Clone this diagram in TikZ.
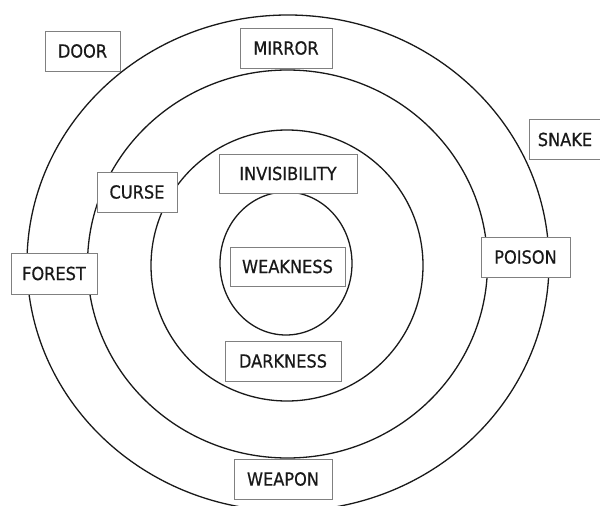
\documentclass[tikz,border=0pt]{standalone}
\usepackage{fontspec}
\setmainfont{DejaVu Sans}[FakeStretch=0.9,FakeBold=0.6]
\begin{document}
\begin{tikzpicture}[x=1pt,y=-1pt,
  ring/.style={draw=black!90, line width=1.3pt},
  lbl/.style={draw=black!50, line width=1pt, fill=white, minimum height=40pt,
    inner sep=0pt, font=\fontsize{18}{20}\selectfont, text=black!90}]
\useasboundingbox (0,0) rectangle (600,506);
\clip (0,0) rectangle (600,506);
% rings
\draw[ring] (288,263) ellipse [x radius=261pt, y radius=248pt];
\draw[ring] (287.5,264) ellipse [x radius=200pt, y radius=194pt];
\draw[ring] (287,265.5) ellipse [x radius=136pt, y radius=135.5pt];
\draw[ring] (286,263.5) ellipse [x radius=66pt, y radius=71.5pt];
% labels
\node[lbl, minimum width=75pt]  (door)   at (82.5,51)   {DOOR};
\node[lbl, minimum width=92pt]  (mirror) at (286,48)    {MIRROR};
\node[lbl, minimum width=72pt]  (snake)  at (565,139.5) {SNAKE};
\node[lbl, minimum width=138pt, minimum height=39pt] (invis) at (288,173.5) {INVISIBILITY};
\node[lbl, minimum width=80pt]  (curse)  at (137,192)   {CURSE};
\node[lbl, minimum width=115pt, minimum height=39pt] (weak) at (287.5,266.5) {WEAKNESS};
\node[lbl, minimum width=86pt, minimum height=41pt] (forest) at (54,273.5) {FOREST};
\node[lbl, minimum width=89pt]  (poison) at (525.5,257) {POISON};
\node[lbl, minimum width=116pt] (dark)   at (283,361)   {DARKNESS};
\node[lbl, minimum width=98pt]  (weapon) at (283,479)   {WEAPON};
\end{tikzpicture}
\end{document}
